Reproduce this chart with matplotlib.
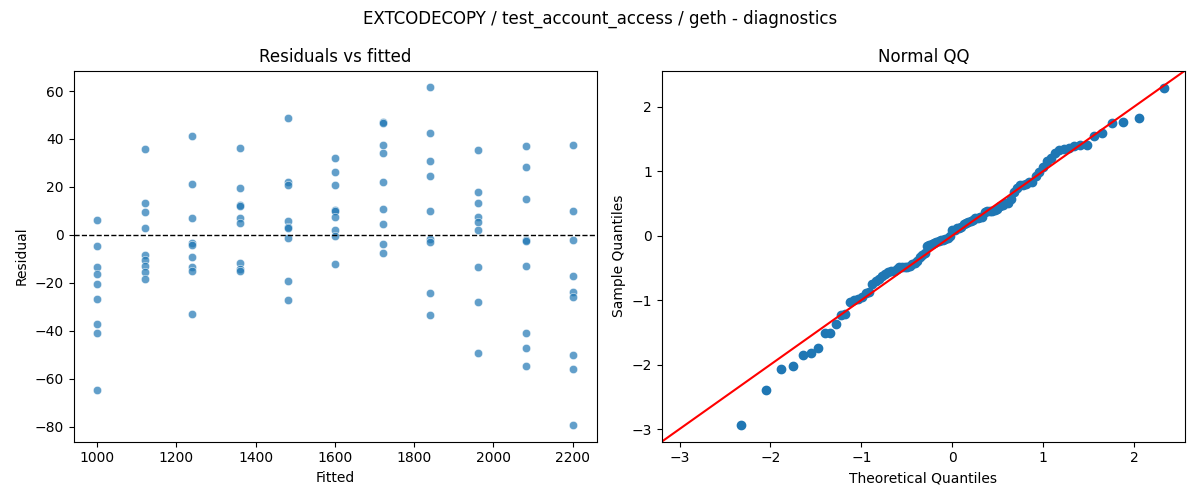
import numpy as np
import matplotlib
matplotlib.use("Agg")
import matplotlib.pyplot as plt
import seaborn as sns
from statistics import NormalDist

fitted_levels = [1001, 1121, 1241, 1361, 1481, 1601, 1721, 1841, 1961, 2081, 2201]
residual_groups = [
    [6.1, -4.7, -13.3, -16.3, -20.4, -26.7, -37.2, -41.0, -64.7],
    [35.8, 13.2, 9.5, 2.9, -8.6, -10.7, -13.2, -15.4, -18.3],
    [41.25, 21.1, 7.1, -3.5, -4.2, -9.3, -13.3, -15.1, -33.0],
    [36.1, 19.4, 12.5, 11.9, 7.1, 4.9, -11.8, -14.4, -14.9],
    [48.6, 22.1, 20.7, 5.8, 3.1, 2.7, -1.25, -19.2, -27.1],
    [31.9, 26.1, 20.7, 10.3, 9.8, 7.4, 2.1, -0.6, -12.1],
    [47.2, 46.8, 37.4, 34.0, 22.0, 10.7, 4.6, -3.9, -7.6],
    [61.5, 42.4, 30.7, 24.4, 9.9, -1.7, -3.1, -24.2, -33.5],
    [35.3, 17.8, 13.2, 7.5, 5.3, 2.0, -13.5, -27.9, -49.3],
    [37.0, 28.2, 15.0, -2.0, -2.4, -12.9, -41.0, -47.1, -54.6],
    [37.4, 9.9, -2.2, -17.2, -23.75, -26.1, -50.1, -56.0, -79.3],
]

fitted = np.concatenate([[f] * len(g) for f, g in zip(fitted_levels, residual_groups)])
resid = np.concatenate([np.array(g) for g in residual_groups])

fig, (ax1, ax2) = plt.subplots(1, 2, figsize=(12, 5), dpi=100)

sns.scatterplot(x=fitted, y=resid, ax=ax1, alpha=0.7)
ax1.axhline(0, color="black", linestyle="--", linewidth=1)
ax1.set_title("Residuals vs fitted")
ax1.set_xlabel("Fitted")
ax1.set_ylabel("Residual")

# Normal QQ of standardized residuals
z = (resid - resid.mean()) / resid.std(ddof=1)
sample = np.sort(z)
n = len(sample)
nd = NormalDist()
theo = np.array([nd.inv_cdf(i / (n + 1)) for i in range(1, n + 1)])
ax2.plot(theo, sample, "o", color="C0", markersize=6)
xl = ax2.get_xlim()
yl = ax2.get_ylim()
ends = [min(xl[0], yl[0]), max(xl[1], yl[1])]
ax2.plot(ends, ends, "r-")
ax2.set_xlim(ends)
ax2.set_ylim(ends)
ax2.set_title("Normal QQ")
ax2.set_xlabel("Theoretical Quantiles")
ax2.set_ylabel("Sample Quantiles")

fig.suptitle("EXTCODECOPY / test_account_access / geth - diagnostics")
fig.tight_layout()
fig.savefig("out.png")
